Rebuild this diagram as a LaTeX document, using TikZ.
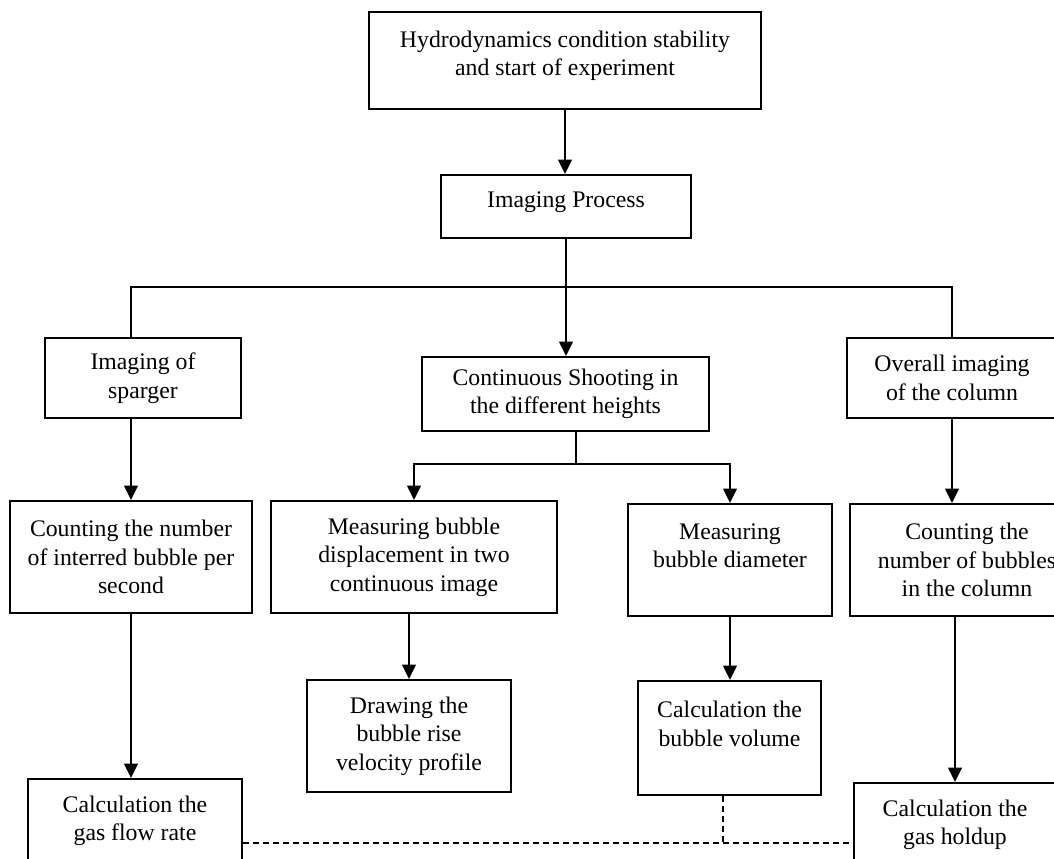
\documentclass[tikz,border=0pt]{standalone}
\usepackage{fontspec}
\setmainfont{Liberation Serif}
\usetikzlibrary{arrows.meta}

\tikzset{
  flowbox/.style={draw, line width=1.4pt, align=center, inner sep=2pt,
    font=\fontsize{16.9}{20.3}\selectfont},
  arrowline/.style={line width=1.4pt, -{Triangle[length=0.36cm,width=0.34cm]}},
  plainline/.style={line width=1.4pt},
  dashline/.style={line width=1.1pt, dash pattern=on 0.15cm off 0.1cm}
}

\begin{document}
\begin{tikzpicture}[x=0.025cm,y=-0.025cm]
        \useasboundingbox (0,0) rectangle (1054,859);

        % boxes
        \node[flowbox, minimum width=9.8cm, minimum height=2.425cm] (start) at (565,60.5) {Hydrodynamics condition stability\\and start of experiment\\[-0.6em]};
        \node[flowbox, minimum width=6.25cm, minimum height=1.575cm] (imaging) at (566,206.5) {Imaging Process\\[-0.6em]};
        \node[flowbox, minimum width=4.9cm, minimum height=2cm] (sparger) at (143,378) {Imaging of\\sparger};
        \node[flowbox, minimum width=7.175cm, minimum height=1.85cm] (shooting) at (565.5,394) {Continuous Shooting in\\the different heights};
        \node[flowbox, minimum width=5.25cm, minimum height=2cm] (overall) at (952,378) {Overall imaging\\of the column};
        \node[flowbox, minimum width=6.05cm, minimum height=2.8cm] (countin) at (131,557) {Counting the number\\of interred bubble per\\second};
        \node[flowbox, minimum width=7.15cm, minimum height=2.8cm] (displace) at (414,557) {Measuring bubble\\displacement in two\\continuous image};
        \node[flowbox, minimum width=5.1cm, minimum height=2.8cm] (diameter) at (730,560) {Measuring\\bubble diameter\\\mbox{}};
        \node[flowbox, minimum width=5.85cm, minimum height=2.8cm] (countcol) at (967,560) {Counting the\\number of bubbles\\in the column};
        \node[flowbox, minimum width=5.1cm, minimum height=2.8cm] (velocity) at (409,736) {Drawing the\\bubble rise\\velocity profile};
        \node[flowbox, minimum width=4.575cm, minimum height=2.85cm] (volume) at (729.5,738) {Calculation the\\bubble volume\\\mbox{}};
        \node[flowbox, minimum width=5.35cm, minimum height=2.1cm] (flowrate) at (135,821) {Calculation the\\gas flow rate};
        \node[flowbox, minimum width=5.05cm, minimum height=2.1cm] (holdup) at (955,825) {Calculation the\\gas holdup};

        \coordinate (branch) at (568,287);
        \coordinate (split) at (576,464);
        \coordinate (join) at (723,843);

        % connectors
        \draw[arrowline] (start.south) -- (start.south |- imaging.north);
        \draw[arrowline] (imaging.south) -- (imaging.south |- shooting.north);
        \draw[plainline] (countin.north |- sparger.north) |- (branch) -| (overall.north);
        \draw[arrowline] (countin.north |- sparger.south) -- (countin.north);
        \draw[plainline] (split |- shooting.south) -- (split);
        \draw[arrowline] (split) -| (displace.north);
        \draw[arrowline] (split) -| (diameter.north);
        \draw[arrowline] (overall.south) -- (overall.south |- countcol.north);
        \draw[arrowline] (countin.south) -- (countin.south |- flowrate.north);
        \draw[arrowline] (velocity.north |- displace.south) -- (velocity.north);
        \draw[arrowline] (diameter.south) -- (diameter.south |- volume.north);
        \draw[arrowline] (holdup.north |- countcol.south) -- (holdup.north);
        \draw[dashline] (join -| flowrate.east) -- (join -| holdup.west);
        \draw[dashline] (join |- volume.south) -- (join);
\end{tikzpicture}
\end{document}
